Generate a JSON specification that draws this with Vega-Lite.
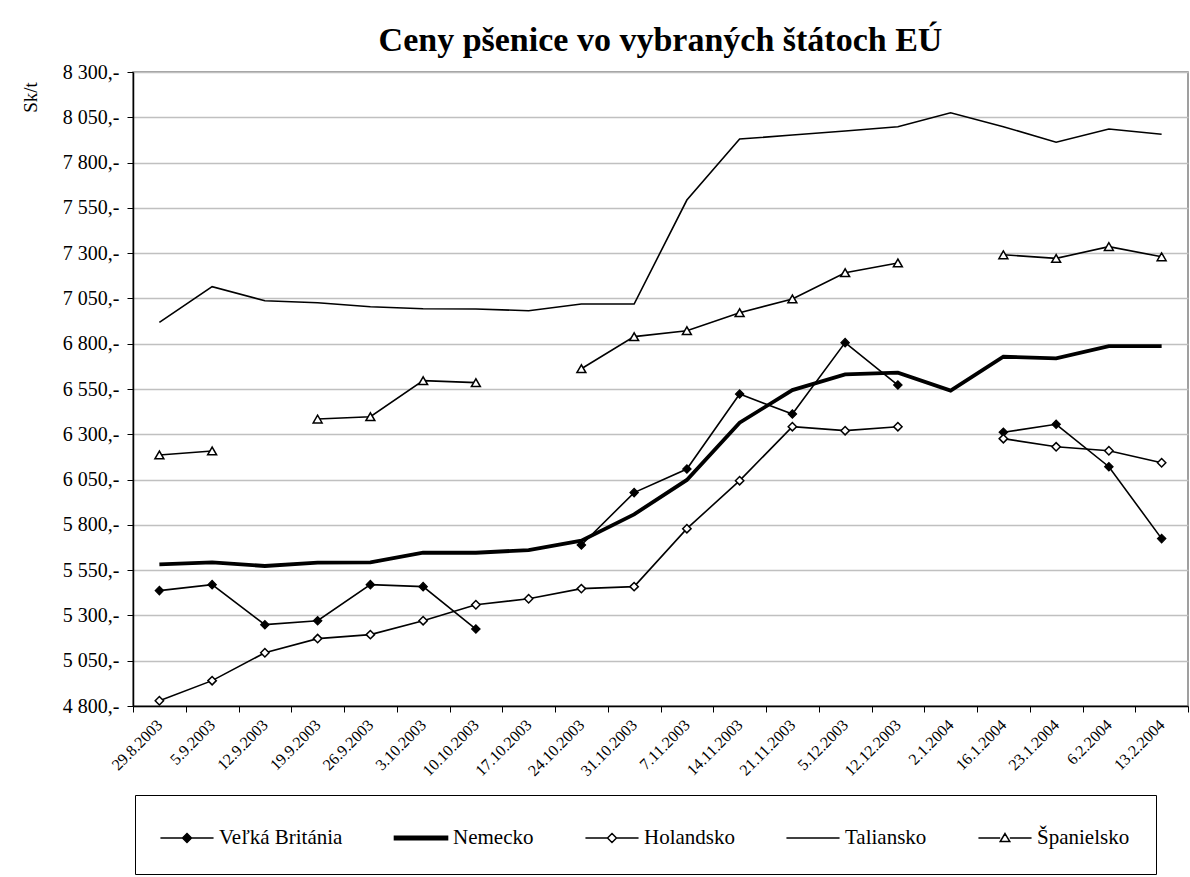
{
  "$schema": "https://vega.github.io/schema/vega-lite/v6.json",
  "width": 1055,
  "height": 634,
  "autosize": {"type": "none"},
  "padding": {"left": 133, "top": 72, "right": 2, "bottom": 171},
  "background": "white",
  "title": {
    "text": "Ceny pšenice vo vybraných štátoch EÚ",
    "font": "Liberation Serif",
    "fontSize": 34,
    "fontWeight": "bold",
    "anchor": "middle",
    "color": "black",
    "offset": 4
  },
  "config": {
    "font": "Liberation Serif",
    "view": {"stroke": "#808080", "strokeWidth": 1.5},
    "axis": {"domainColor": "black", "tickColor": "black", "labelColor": "black", "titleColor": "black"}
  },
  "data": {
    "values": [
      {"date": "29.8.2003", "series": "Veľká Británia", "value": 5437},
      {"date": "5.9.2003", "series": "Veľká Británia", "value": 5470},
      {"date": "12.9.2003", "series": "Veľká Británia", "value": 5249},
      {"date": "19.9.2003", "series": "Veľká Británia", "value": 5271},
      {"date": "26.9.2003", "series": "Veľká Británia", "value": 5470},
      {"date": "3.10.2003", "series": "Veľká Británia", "value": 5459},
      {"date": "10.10.2003", "series": "Veľká Británia", "value": 5225},
      {"date": "17.10.2003", "series": "Veľká Británia", "value": null},
      {"date": "24.10.2003", "series": "Veľká Británia", "value": 5689},
      {"date": "31.10.2003", "series": "Veľká Británia", "value": 5978},
      {"date": "7.11.2003", "series": "Veľká Británia", "value": 6108},
      {"date": "14.11.2003", "series": "Veľká Británia", "value": 6522},
      {"date": "21.11.2003", "series": "Veľká Británia", "value": 6412},
      {"date": "5.12.2003", "series": "Veľká Británia", "value": 6806},
      {"date": "12.12.2003", "series": "Veľká Británia", "value": 6572},
      {"date": "2.1.2004", "series": "Veľká Británia", "value": null},
      {"date": "16.1.2004", "series": "Veľká Británia", "value": 6311},
      {"date": "23.1.2004", "series": "Veľká Británia", "value": 6355},
      {"date": "6.2.2004", "series": "Veľká Británia", "value": 6121},
      {"date": "13.2.2004", "series": "Veľká Británia", "value": 5724},

      {"date": "29.8.2003", "series": "Nemecko", "value": 5582},
      {"date": "5.9.2003", "series": "Nemecko", "value": 5593},
      {"date": "12.9.2003", "series": "Nemecko", "value": 5573},
      {"date": "19.9.2003", "series": "Nemecko", "value": 5591},
      {"date": "26.9.2003", "series": "Nemecko", "value": 5593},
      {"date": "3.10.2003", "series": "Nemecko", "value": 5646},
      {"date": "10.10.2003", "series": "Nemecko", "value": 5646},
      {"date": "17.10.2003", "series": "Nemecko", "value": 5661},
      {"date": "24.10.2003", "series": "Nemecko", "value": 5713},
      {"date": "31.10.2003", "series": "Nemecko", "value": 5858},
      {"date": "7.11.2003", "series": "Nemecko", "value": 6048},
      {"date": "14.11.2003", "series": "Nemecko", "value": 6364},
      {"date": "21.11.2003", "series": "Nemecko", "value": 6544},
      {"date": "5.12.2003", "series": "Nemecko", "value": 6631},
      {"date": "12.12.2003", "series": "Nemecko", "value": 6640},
      {"date": "2.1.2004", "series": "Nemecko", "value": 6541},
      {"date": "16.1.2004", "series": "Nemecko", "value": 6728},
      {"date": "23.1.2004", "series": "Nemecko", "value": 6719},
      {"date": "6.2.2004", "series": "Nemecko", "value": 6787},
      {"date": "13.2.2004", "series": "Nemecko", "value": 6787},

      {"date": "29.8.2003", "series": "Holandsko", "value": 4829},
      {"date": "5.9.2003", "series": "Holandsko", "value": 4940},
      {"date": "12.9.2003", "series": "Holandsko", "value": 5094},
      {"date": "19.9.2003", "series": "Holandsko", "value": 5172},
      {"date": "26.9.2003", "series": "Holandsko", "value": 5194},
      {"date": "3.10.2003", "series": "Holandsko", "value": 5271},
      {"date": "10.10.2003", "series": "Holandsko", "value": 5359},
      {"date": "17.10.2003", "series": "Holandsko", "value": 5392},
      {"date": "24.10.2003", "series": "Holandsko", "value": 5448},
      {"date": "31.10.2003", "series": "Holandsko", "value": 5459},
      {"date": "7.11.2003", "series": "Holandsko", "value": 5779},
      {"date": "14.11.2003", "series": "Holandsko", "value": 6044},
      {"date": "21.11.2003", "series": "Holandsko", "value": 6342},
      {"date": "5.12.2003", "series": "Holandsko", "value": 6320},
      {"date": "12.12.2003", "series": "Holandsko", "value": 6342},
      {"date": "2.1.2004", "series": "Holandsko", "value": null},
      {"date": "16.1.2004", "series": "Holandsko", "value": 6276},
      {"date": "23.1.2004", "series": "Holandsko", "value": 6231},
      {"date": "6.2.2004", "series": "Holandsko", "value": 6209},
      {"date": "13.2.2004", "series": "Holandsko", "value": 6143},

      {"date": "29.8.2003", "series": "Taliansko", "value": 6918},
      {"date": "5.9.2003", "series": "Taliansko", "value": 7115},
      {"date": "12.9.2003", "series": "Taliansko", "value": 7037},
      {"date": "19.9.2003", "series": "Taliansko", "value": 7026},
      {"date": "26.9.2003", "series": "Taliansko", "value": 7004},
      {"date": "3.10.2003", "series": "Taliansko", "value": 6993},
      {"date": "10.10.2003", "series": "Taliansko", "value": 6992},
      {"date": "17.10.2003", "series": "Taliansko", "value": 6982},
      {"date": "24.10.2003", "series": "Taliansko", "value": 7019},
      {"date": "31.10.2003", "series": "Taliansko", "value": 7019},
      {"date": "7.11.2003", "series": "Taliansko", "value": 7593},
      {"date": "14.11.2003", "series": "Taliansko", "value": 7930},
      {"date": "21.11.2003", "series": "Taliansko", "value": 7952},
      {"date": "5.12.2003", "series": "Taliansko", "value": 7974},
      {"date": "12.12.2003", "series": "Taliansko", "value": 7998},
      {"date": "2.1.2004", "series": "Taliansko", "value": 8075},
      {"date": "16.1.2004", "series": "Taliansko", "value": 7998},
      {"date": "23.1.2004", "series": "Taliansko", "value": 7912},
      {"date": "6.2.2004", "series": "Taliansko", "value": 7985},
      {"date": "13.2.2004", "series": "Taliansko", "value": 7956},

      {"date": "29.8.2003", "series": "Španielsko", "value": 6186},
      {"date": "5.9.2003", "series": "Španielsko", "value": 6208},
      {"date": "12.9.2003", "series": "Španielsko", "value": null},
      {"date": "19.9.2003", "series": "Španielsko", "value": 6384},
      {"date": "26.9.2003", "series": "Španielsko", "value": 6397},
      {"date": "3.10.2003", "series": "Španielsko", "value": 6596},
      {"date": "10.10.2003", "series": "Španielsko", "value": 6585},
      {"date": "17.10.2003", "series": "Španielsko", "value": null},
      {"date": "24.10.2003", "series": "Španielsko", "value": 6662},
      {"date": "31.10.2003", "series": "Španielsko", "value": 6839},
      {"date": "7.11.2003", "series": "Španielsko", "value": 6872},
      {"date": "14.11.2003", "series": "Španielsko", "value": 6971},
      {"date": "21.11.2003", "series": "Španielsko", "value": 7047},
      {"date": "5.12.2003", "series": "Španielsko", "value": 7192},
      {"date": "12.12.2003", "series": "Španielsko", "value": 7246},
      {"date": "2.1.2004", "series": "Španielsko", "value": null},
      {"date": "16.1.2004", "series": "Španielsko", "value": 7291},
      {"date": "23.1.2004", "series": "Španielsko", "value": 7271},
      {"date": "6.2.2004", "series": "Španielsko", "value": 7336},
      {"date": "13.2.2004", "series": "Španielsko", "value": 7280}
    ]
  },
  "encoding": {
    "x": {
      "field": "date",
      "type": "ordinal",
      "bandPosition": 0.5,
      "scale": {
        "type": "band",
        "paddingInner": 0,
        "paddingOuter": 0,
        "domain": ["29.8.2003","5.9.2003","12.9.2003","19.9.2003","26.9.2003","3.10.2003","10.10.2003","17.10.2003","24.10.2003","31.10.2003","7.11.2003","14.11.2003","21.11.2003","5.12.2003","12.12.2003","2.1.2004","16.1.2004","23.1.2004","6.2.2004","13.2.2004"]
      },
      "axis": {
        "title": null,
        "grid": false,
        "tickBand": "extent",
        "tickSize": 6,
        "labelAngle": -45,
        "labelAlign": "right",
        "labelBaseline": "middle",
        "labelFont": "Liberation Serif",
        "labelFontSize": 16,
        "labelPadding": 10,
        "domainWidth": 1.5
      }
    },
    "y": {
      "field": "value",
      "type": "quantitative",
      "scale": {"domain": [4800, 8300], "nice": false, "zero": false},
      "axis": {
        "title": "Sk/t",
        "values": [4800, 5050, 5300, 5550, 5800, 6050, 6300, 6550, 6800, 7050, 7300, 7550, 7800, 8050, 8300],
        "labelExpr": "replace(format(datum.value, ','), ',', ' ') + ',-'",
        "labelFont": "Liberation Serif",
        "labelFontSize": 20,
        "labelPadding": 8,
        "tickSize": 6,
        "grid": true,
        "gridColor": "#c0c0c0",
        "gridWidth": 1.5,
        "domainWidth": 1.5,
        "titleFont": "Liberation Serif",
        "titleFontSize": 19,
        "titleFontWeight": "normal",
        "titleAngle": -90,
        "titleX": -103,
        "titleY": 25,
        "titleAlign": "center",
        "titleBaseline": "middle"
      }
    }
  },
  "layer": [
    {
      "transform": [{"filter": "datum.series !== 'Nemecko'"}],
      "mark": {"type": "line", "color": "black", "strokeWidth": 1.6},
      "encoding": {"detail": {"field": "series", "type": "nominal"}}
    },
    {
      "transform": [{"filter": "datum.series === 'Nemecko'"}],
      "mark": {"type": "line", "color": "black", "strokeWidth": 3.8},
      "encoding": {}
    },
    {
      "transform": [{"filter": "datum.series === 'Veľká Británia' && isValid(datum.value)"}],
      "mark": {"type": "point", "shape": "diamond", "size": 70, "filled": true, "fill": "black", "stroke": "black", "strokeWidth": 1.2, "opacity": 1},
      "encoding": {}
    },
    {
      "transform": [{"filter": "datum.series === 'Holandsko' && isValid(datum.value)"}],
      "mark": {"type": "point", "shape": "diamond", "size": 70, "filled": true, "fill": "white", "stroke": "black", "strokeWidth": 1.5, "opacity": 1},
      "encoding": {}
    },
    {
      "transform": [{"filter": "datum.series === 'Španielsko' && isValid(datum.value)"}],
      "mark": {"type": "point", "shape": "triangle-up", "size": 80, "filled": true, "fill": "white", "stroke": "black", "strokeWidth": 1.5, "opacity": 1},
      "encoding": {}
    },
    {
      "transform": [{"filter": "datum.value > 100000"}],
      "mark": {"type": "point", "filled": true, "stroke": "black", "strokeWidth": 1.5, "opacity": 1},
      "encoding": {
        "shape": {
          "field": "series",
          "type": "nominal",
          "scale": {
            "domain": ["Veľká Británia", "Nemecko", "Holandsko", "Taliansko", "Španielsko"],
            "range": [
              "M-1.66,0H1.66M0,-0.28L0.28,0L0,0.28L-0.28,0Z",
              "M-1.66,-0.11H1.66V0.11H-1.66Z",
              "M-1.66,0H-0.28M0.28,0H1.66M0,-0.28L0.28,0L0,0.28L-0.28,0Z",
              "M-1.66,0H1.66",
              "M-1.66,0H-0.3M0.3,0H1.66M0,-0.28L0.3,0.22L-0.3,0.22Z"
            ]
          },
          "legend": {
            "title": null,
            "orient": "none",
            "legendX": 2,
            "legendY": 723,
            "direction": "horizontal",
            "columns": 5,
            "padding": 26,
            "strokeColor": "black",
            "labelFont": "Liberation Serif",
            "labelFontSize": 21,
            "labelColor": "black",
            "labelLimit": 300,
            "symbolSize": 1024,
            "symbolOffset": 9,
            "symbolStrokeColor": "black",
            "symbolStrokeWidth": 1.5,
            "symbolOpacity": 1,
            "columnPadding": 48,
            "labelOffset": 15,
            "encode": {"symbols": {"update": {"stroke": {"value": "black"}, "strokeWidth": {"value": 1.5}}}}
          }
        },
        "fill": {
          "field": "series",
          "type": "nominal",
          "scale": {
            "domain": ["Veľká Británia", "Nemecko", "Holandsko", "Taliansko", "Španielsko"],
            "range": ["black", "black", "white", "black", "white"]
          },
          "legend": {
            "title": null,
            "orient": "none",
            "legendX": 2,
            "legendY": 723,
            "direction": "horizontal",
            "columns": 5,
            "padding": 26,
            "strokeColor": "black",
            "labelFont": "Liberation Serif",
            "labelFontSize": 21,
            "labelColor": "black",
            "labelLimit": 300,
            "symbolSize": 1024,
            "symbolOffset": 9,
            "symbolStrokeColor": "black",
            "symbolStrokeWidth": 1.5,
            "symbolOpacity": 1,
            "columnPadding": 48,
            "labelOffset": 15,
            "encode": {"symbols": {"update": {"stroke": {"value": "black"}, "strokeWidth": {"value": 1.5}}}}
          }
        }
      }
    }
  ]
}
